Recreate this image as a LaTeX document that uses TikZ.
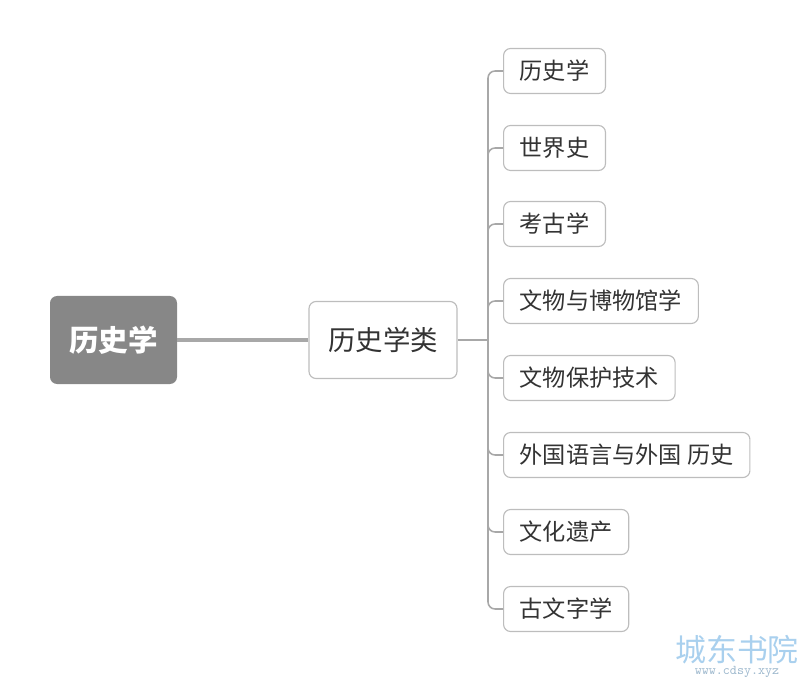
\documentclass[tikz,border=0pt]{standalone}
\usepackage{fontspec}
\setmainfont{Noto Sans CJK SC}
\usetikzlibrary{positioning}
\definecolor{rootgray}{HTML}{878787}
\definecolor{edgegray}{HTML}{BDBDBD}
\definecolor{linegray}{HTML}{A8A8A8}
\definecolor{txtgray}{HTML}{333333}
\definecolor{wmblue}{HTML}{A9D0EE}
\begin{document}
\begin{tikzpicture}[x=0.025cm,y=-0.025cm,
   rootbox/.style={fill=rootgray, rounded corners=5pt, text=white, font=\fontsize{21}{24}\selectfont\bfseries,
      minimum width=127*0.025cm, minimum height=88*0.025cm},
   midbox/.style={draw=edgegray, line width=0.8pt, fill=white, rounded corners=5pt, text=txtgray,
      font=\fontsize{19.5}{22}\selectfont, minimum width=148*0.025cm, minimum height=77*0.025cm},
   leafbox/.style={draw=edgegray, line width=0.8pt, fill=white, rounded corners=5pt, text=txtgray,
      font=\fontsize{16.5}{19}\selectfont, inner xsep=11.5pt, minimum height=45*0.025cm, anchor=west},
   branch/.style={draw=linegray, line width=1.1pt, rounded corners=5pt}]

   \useasboundingbox (0,0) rectangle (800,681);

   \node[rootbox] (root) at (113.5,340) {历史学};
   \node[midbox] (mid) at (383,340) {历史学类};
   \draw[linegray, line width=2.2pt] (root.east) -- (mid.west);

% leaves
   \coordinate (spine) at (488,340);
   \draw[branch] (mid.east) -- (spine);
   \foreach \name/\y/\txt in {l1/71/历史学, l2/148/世界史, l3/224/考古学, l4/301/文物与博物馆学,
         l5/378/文物保护技术, l6/455/外国语言与外国\ 历史, l7/532/文化遗产, l8/609/古文字学}
   {
      \node[leafbox] (\name) at (503,\y) {\txt};
      \draw[branch] (spine) |- (\name.west);
   }

% watermark
   \node[text=wmblue, font=\fontsize{22}{24}\selectfont, inner ysep=0pt] (wm) at (737,650) {城东书院};
   \node[text=wmblue!70!gray, font=\fontsize{9.5}{10}\selectfont\ttfamily, inner ysep=0pt, below=1pt of wm] (wmurl) {www.cdsy.xyz};

\end{tikzpicture}
\end{document}
